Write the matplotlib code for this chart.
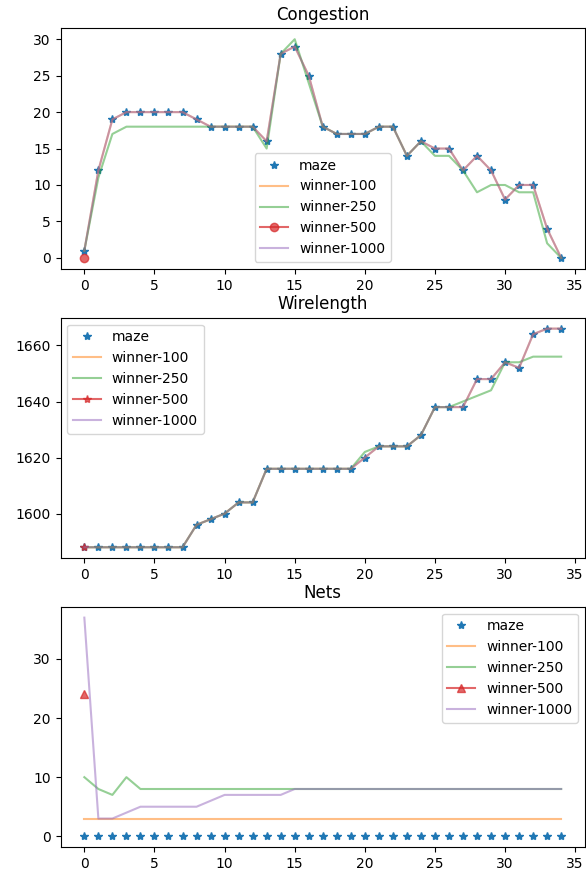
import matplotlib
matplotlib.use("Agg")
import matplotlib.pyplot as plt

# ---------------- data ----------------
x = list(range(35))

# Congestion
maze_cong = [1, 12, 19, 20, 20, 20, 20, 20, 19, 18, 18, 18, 18, 16, 28, 29, 25, 18,
             17, 17, 17, 18, 18, 14, 16, 15, 15, 12, 14, 12, 8, 10, 10, 4, 0]
w100_cong = [1, 12, 19, 20, 20, 20, 20, 20, 19, 18, 18, 18, 18, 16, 28, 29, 25, 18,
             17, 17, 17, 18, 18, 14, 16, 15, 15, 12, 14, 12, 8, 10, 10, 4, 0]
w250_cong = [1, 11, 17, 18, 18, 18, 18, 18, 18, 18, 18, 18, 18, 15, 28, 30, 24, 18,
             17, 17, 17, 18, 18, 14, 16, 14, 14, 12, 9, 10, 10, 9, 9, 2, 0]
w500_cong = [0]
w1000_cong = [1, 12, 19, 20, 20, 20, 20, 20, 19, 18, 18, 18, 18, 16, 28, 29, 25, 18,
              17, 17, 17, 18, 18, 14, 16, 15, 15, 12, 14, 12, 8, 10, 10, 4, 0]

# Wirelength
maze_wl = [1588, 1588, 1588, 1588, 1588, 1588, 1588, 1588, 1596, 1598, 1600, 1604, 1604,
           1616, 1616, 1616, 1616, 1616, 1616, 1616, 1620, 1624, 1624, 1624, 1628,
           1638, 1638, 1638, 1648, 1648, 1654, 1652, 1664, 1666, 1666]
w100_wl = [1588, 1588, 1588, 1588, 1588, 1588, 1588, 1588, 1596, 1598, 1600, 1604, 1604,
           1616, 1616, 1616, 1616, 1616, 1616, 1616, 1620, 1624, 1624, 1624, 1628,
           1638, 1638, 1638, 1648, 1648, 1654, 1652, 1664, 1666, 1666]
w250_wl = [1588, 1588, 1588, 1588, 1588, 1588, 1588, 1588, 1596, 1598, 1600, 1604, 1604,
           1616, 1616, 1616, 1616, 1616, 1616, 1616, 1622, 1624, 1624, 1624, 1628,
           1638, 1638, 1640, 1642, 1644, 1654, 1654, 1656, 1656, 1656]
w500_wl = [1588]
w1000_wl = [1588, 1588, 1588, 1588, 1588, 1588, 1588, 1588, 1596, 1598, 1600, 1604, 1604,
            1616, 1616, 1616, 1616, 1616, 1616, 1616, 1620, 1624, 1624, 1624, 1628,
            1638, 1638, 1638, 1648, 1648, 1654, 1652, 1664, 1666, 1666]

# Nets
maze_nets = [0] * 35
w100_nets = [3] * 35
w250_nets = [10, 8, 7, 10, 8, 8, 8, 8, 8, 8, 8, 8, 8, 8, 8, 8, 8, 8,
             8, 8, 8, 8, 8, 8, 8, 8, 8, 8, 8, 8, 8, 8, 8, 8, 8]
w500_nets = [24]
w1000_nets = [37, 3, 3, 4, 5, 5, 5, 5, 5, 6, 7, 7, 7, 7, 7, 8, 8, 8,
              8, 8, 8, 8, 8, 8, 8, 8, 8, 8, 8, 8, 8, 8, 8, 8, 8]

labels = ["maze", "winner-100", "winner-250", "winner-500", "winner-1000"]

panels = [
    ("Congestion", maze_cong, w100_cong, w250_cong, w500_cong, w1000_cong, "o", "lower center"),
    ("Wirelength", maze_wl, w100_wl, w250_wl, w500_wl, w1000_wl, "*", "upper left"),
    ("Nets", maze_nets, w100_nets, w250_nets, w500_nets, w1000_nets, "^", "upper right"),
]

# ---------------- figure ----------------
W, H = 586, 874
fig = plt.figure(figsize=(W / 100, H / 100), dpi=100)

left_px = 60.5
width_px = 524.5
tops_px = [28.3, 317.7, 606.7]
height_px = 240.5

for (title, m, a, b, c, d, mk, loc), top in zip(panels, tops_px):
    ax = fig.add_axes([left_px / W, (H - top - height_px) / H, width_px / W, height_px / H])
    ax.plot(x[:len(m)], m, "*", color="C0", label=labels[0])
    ax.plot(x[:len(a)], a, "-", color="C1", alpha=0.5, label=labels[1])
    ax.plot(x[:len(b)], b, "-", color="C2", alpha=0.5, label=labels[2])
    ax.plot(x[:len(c)], c, "-", marker=mk, color="C3", alpha=0.7, label=labels[3])
    ax.plot(x[:len(d)], d, "-", color="C4", alpha=0.5, label=labels[4])
    ax.set_title(title)
    ax.set_xticks([0, 5, 10, 15, 20, 25, 30, 35])
    ax.legend(loc=loc)

fig.savefig("out.png", dpi=100)
